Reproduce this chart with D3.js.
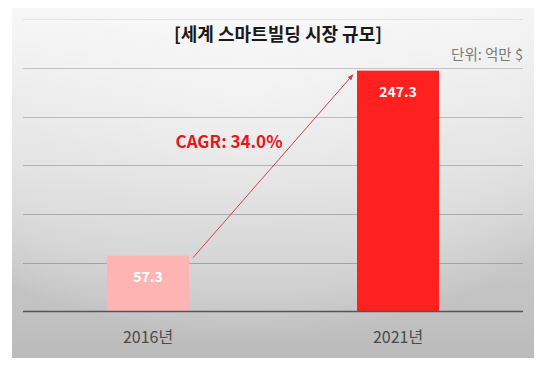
<!DOCTYPE html>
<html><head><meta charset="utf-8">
<script src="https://cdn.jsdelivr.net/npm/d3@7"></script>
<style>html,body{margin:0;padding:0;background:#fff;}svg{display:block;}</style>
</head><body><div id="chart"></div>
<script>
const categories = ["2016년", "2021년"];
const values = [57.3, 247.3];
const valueLabels = ["57.3", "247.3"];
const barColors = ["#ffb4b4", "#ff2020"];
const yTicks = [0, 50, 100, 150, 200, 250, 300];
const title = "[세계 스마트빌딩 시장 규모]";
const unitText = "단위: 억만 $";
const cagrText = "CAGR: 34.0%";

const W = 560, H = 365;
const font = "'Noto Sans CJK KR','Noto Sans',sans-serif";
const svg = d3.select("#chart").append("svg").attr("width", W).attr("height", H);
const defs = svg.append("defs");

const bg = defs.append("linearGradient").attr("id", "bg").attr("x1", 0).attr("y1", 0).attr("x2", 0).attr("y2", 1);
bg.append("stop").attr("offset", "0%").attr("stop-color", "#f7f7f7");
bg.append("stop").attr("offset", "45%").attr("stop-color", "#e4e4e4");
bg.append("stop").attr("offset", "100%").attr("stop-color", "#c9c9c9");
const vig = defs.append("radialGradient").attr("id", "vig").attr("cx", "45%").attr("cy", "20%").attr("r", "75%");
vig.append("stop").attr("offset", "0%").attr("stop-color", "#fff").attr("stop-opacity", 0.35);
vig.append("stop").attr("offset", "60%").attr("stop-color", "#fff").attr("stop-opacity", 0);
vig.append("stop").attr("offset", "100%").attr("stop-color", "#000").attr("stop-opacity", 0.07);

defs.append("marker").attr("id", "arr").attr("viewBox", "0 0 10 10").attr("refX", 9).attr("refY", 5)
  .attr("markerWidth", 6).attr("markerHeight", 6).attr("orient", "auto")
  .append("path").attr("d", "M0,1 L10,5 L0,9 Z").attr("fill", "#d0404c");

svg.append("rect").attr("x", 12).attr("y", 8).attr("width", 522).attr("height", 350).attr("fill", "url(#bg)");
svg.append("rect").attr("x", 12).attr("y", 8).attr("width", 522).attr("height", 350).attr("fill", "url(#vig)");

const x = d3.scaleBand().domain(categories).range([23, 523]).paddingInner(0.672).paddingOuter(0.336);
const y = d3.scaleLinear().domain([0, 300]).range([311.5, 19.3]);
const gridColor = d3.scaleLinear().domain([300, 250, 0]).range(["#e2e2e2", "#c4c4c4", "#9a9a9a"]);

// gridlines
svg.append("g").attr("transform", "translate(23,0)")
  .call(d3.axisLeft(y).tickValues(yTicks.filter(t => t > 0)).tickSize(-500).tickFormat(""))
  .call(g => g.select(".domain").remove())
  .call(g => g.selectAll(".tick").attr("transform", d => `translate(0,${Math.round(y(d)) + 0.5})`))
  .call(g => g.selectAll("line").attr("stroke", d => gridColor(d)).attr("stroke-width", 1));

// bars
svg.append("g").selectAll("rect").data(values).join("rect")
  .attr("x", (d, i) => x(categories[i]))
  .attr("y", d => y(d))
  .attr("width", x.bandwidth())
  .attr("height", d => y(0) - y(d))
  .attr("fill", (d, i) => barColors[i]);

// baseline + category labels
svg.append("g").attr("transform", `translate(0,${y(0)})`)
  .call(d3.axisBottom(x).tickSize(0).tickPadding(20))
  .call(g => g.select(".domain").attr("stroke", "#555").attr("stroke-width", 1.5).attr("d", "M23,0H523"))
  .call(g => g.selectAll("text").attr("font-family", font).attr("font-size", 16).attr("fill", "#4a4a4a"));

// bar value labels
svg.append("g").selectAll("text").data(values).join("text")
  .attr("x", (d, i) => x(categories[i]) + x.bandwidth() / 2)
  .attr("y", d => y(d) + 21)
  .attr("dy", "0.35em")
  .attr("text-anchor", "middle")
  .attr("font-family", font).attr("font-size", 14).attr("font-weight", "bold")
  .attr("fill", "#fff")
  .text((d, i) => valueLabels[i]);

// arrow
const x0 = x(categories[0]) + x.bandwidth() + 4, y0 = y(values[0]) + 2;
const x1 = x(categories[1]) - 4, y1 = y(values[1]) + 4;
svg.append("line").attr("x1", x0).attr("y1", y0).attr("x2", x1).attr("y2", y1)
  .attr("stroke", "#d0404c").attr("stroke-width", 1).attr("marker-end", "url(#arr)");

svg.append("text").attr("x", 229).attr("y", 142).attr("dy", "0.35em").attr("text-anchor", "middle")
  .attr("font-family", font).attr("font-size", 17).attr("font-weight", "bold").attr("fill", "#e8161e")
  .text(cagrText);

svg.append("text").attr("x", 278).attr("y", 35).attr("dy", "0.35em").attr("text-anchor", "middle")
  .attr("font-family", font).attr("font-size", 18).attr("font-weight", "bold").attr("fill", "#1a1a1a")
  .text(title);

svg.append("text").attr("x", 523).attr("y", 55).attr("dy", "0.35em").attr("text-anchor", "end")
  .attr("font-family", font).attr("font-size", 14.5).attr("fill", "#7a7a7a")
  .text(unitText);
</script></body></html>
